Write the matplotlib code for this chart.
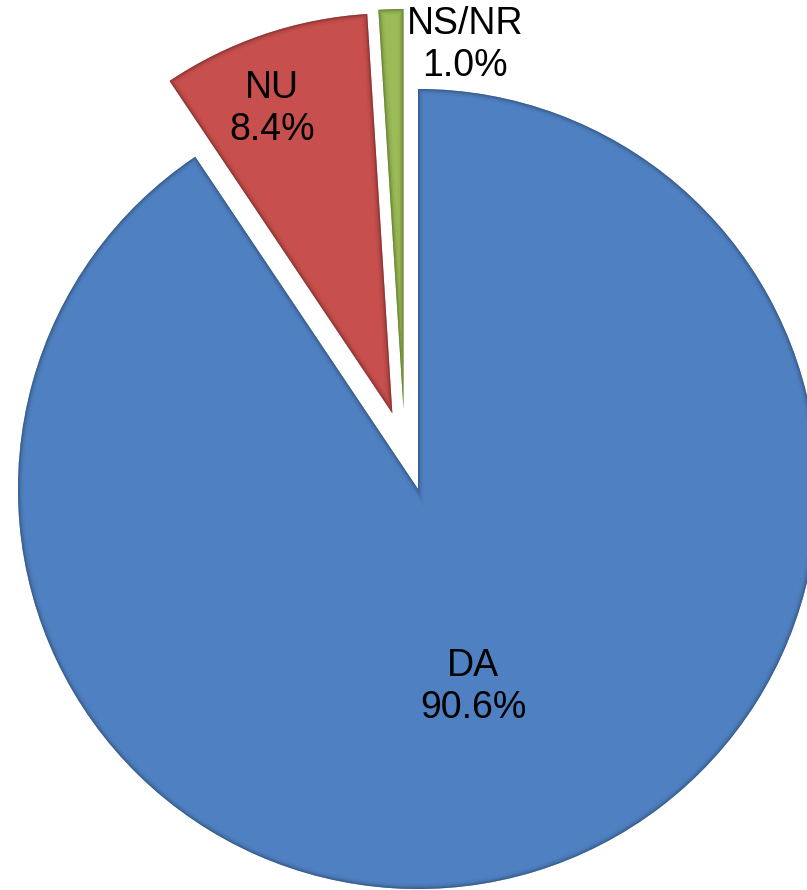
import matplotlib.pyplot as plt
from matplotlib.patches import Wedge

labels = ["DA", "NU", "NS/NR"]
values = [90.6, 8.4, 1.0]
colors = ["#4F81C2", "#C7504E", "#9BBB59"]
dark = ["#2B4A70", "#6E2624", "#4F6A22"]
explode = [0, 0.2, 0.2]

plt.rcParams['font.family'] = ['Liberation Sans', 'DejaVu Sans']

fig = plt.figure(figsize=(8.07, 8.9), dpi=100)
ax = fig.add_axes([0, 0, 1, 1])

wedges, _ = ax.pie(values, colors=colors, explode=explode, startangle=90,
                   counterclock=False, radius=1.0,
                   wedgeprops=dict(linewidth=0))

# nudge the small slice like the original layout
cx, cy = wedges[2].center
wedges[2].set_center((cx - 0.03, cy))

# darker bevel towards the slice edges
for w, d in zip(wedges, dark):
    for lw, a in [(8, 0.08), (5, 0.14), (3, 0.25), (1.2, 0.4)]:
        edge = Wedge(w.center, w.r, w.theta1, w.theta2, facecolor="none",
                     edgecolor=d, linewidth=lw, alpha=a)
        ax.add_patch(edge)
        edge.set_clip_path(w)

label_pos = [(0.1375, -0.495), (-0.365, 0.95), (0.1175, 1.11)]
for lab, v, (x, y) in zip(labels, values, label_pos):
    ax.text(x, y, f"{lab}\n{v:.1f}%", ha="center", va="center",
            fontsize=27, linespacing=1.18, color="black")

ax.set_xlim(-1.045, 0.9725)
ax.set_ylim(-1.0025, 1.2225)
ax.set_aspect("equal")
ax.axis("off")

fig.savefig("out.png", dpi=100)
